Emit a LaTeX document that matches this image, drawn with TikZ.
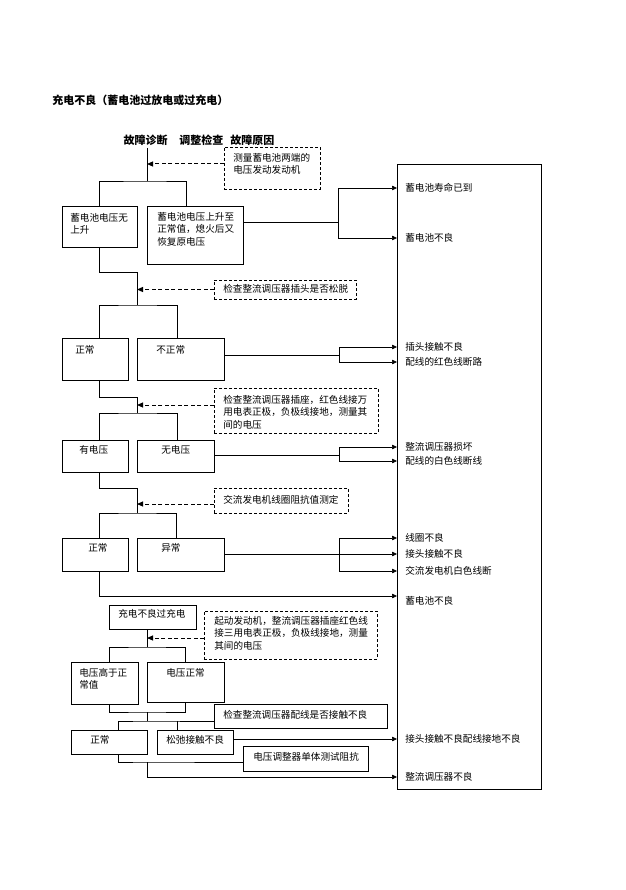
\documentclass[tikz,border=0pt]{standalone}
\usepackage{fontspec}
\setmainfont{Noto Sans CJK SC}
\usetikzlibrary{arrows.meta}
\begin{document}
\begin{tikzpicture}[x=1pt, y=-1pt, line width=0.6pt,
    box/.style={draw, anchor=north west, inner sep=0pt, outer sep=0pt},
    dbox/.style={box, dash pattern=on 3pt off 2pt},
    txt/.style={anchor=north west, inner sep=0pt, align=left, font=\fontsize{9.6pt}{12.5pt}\selectfont},
    ctxt/.style={txt, anchor=west},
    arr/.style={-{Triangle[length=5pt, width=4.5pt]}},
    darr/.style={-{Triangle[length=6pt, width=5pt]}, line width=1pt, dash pattern=on 4pt off 2.5pt}]
    \useasboundingbox (0,0) rectangle (625,890);
    % titles
    \node[anchor=west, inner sep=0pt, font=\fontsize{11pt}{13pt}\selectfont\bfseries] (title) at (52,100) {充电不良（蓄电池过放电或过充电）};
    \node[inner sep=0pt, font=\fontsize{11pt}{13pt}\selectfont\bfseries] (head) at (199,140) {故障诊断\hspace{12pt}调整检查\hspace{7pt}故障原因};
    % causes column
    \node[box, minimum width=144pt, minimum height=625pt] (cause) at (397,164) {};
    \node[ctxt] (c1) at (405,188) {蓄电池寿命已到};
    \node[ctxt] (c2) at (405,238) {蓄电池不良};
    \node[ctxt] (c3) at (405,347) {插头接触不良};
    \node[ctxt] (c4) at (405,362) {配线的红色线断路};
    \node[ctxt] (c5) at (405,447) {整流调压器损坏};
    \node[ctxt] (c6) at (405,461) {配线的白色线断线};
    \node[ctxt] (c7) at (405,538) {线圈不良};
    \node[ctxt] (c8) at (405,554) {接头接触不良};
    \node[ctxt] (c9) at (405,571) {交流发电机白色线断};
    \node[ctxt] (c10) at (405,601) {蓄电池不良};
    \node[ctxt] (c11) at (405,739) {接头接触不良配线接地不良};
    \node[ctxt] (c12) at (405,777) {整流调压器不良};

    % step 1: battery voltage
    \coordinate (s0) at (147,148);
    \coordinate (j1) at (147,181);
    \node[dbox, minimum width=96pt, minimum height=42pt] (d1) at (224,147) {};
    \node[txt] (d1t) at ([shift={(9pt,-6pt)}]d1.north west) {测量蓄电池两端的\\电压发动发动机};
    \node[box, minimum width=75pt, minimum height=41pt] (nv) at (62,206) {};
    \node[txt] (nvt) at ([shift={(8pt,-7pt)}]nv.north west) {蓄电池电压无\\上升};
    \node[box, minimum width=96pt, minimum height=58pt] (rise) at (147,206) {};
    \node[txt] (riset) at ([shift={(10pt,-6pt)}]rise.north west) {蓄电池电压上升至\\正常值，熄火后又\\恢复原电压};
    \draw (s0) -- (j1);
    \draw[darr] ([yshift=4pt]d1.west) -- ([yshift=4pt]d1.west -| s0);
    \draw (nv.north) |- (j1) -| ([xshift=-9pt]rise.north);
    \draw (rise.east |- 0,222) -- (338,222) coordinate (k1);
    \draw[arr] (k1) |- (c1 -| cause.west);
    \draw[arr] (k1) |- (c2 -| cause.west);

    % step 2: plug
    \coordinate (j2) at (137,305);
    \node[dbox, minimum width=142pt, minimum height=19pt] (d2) at (214,280) {};
    \node[txt] (d2t) at ([shift={(9pt,-4pt)}]d2.north west) {检查整流调压器插头是否松脱};
    \node[box, minimum width=66pt, minimum height=42pt] (ok1) at (62,338) {};
    \node[txt] (ok1t) at ([shift={(13pt,-7pt)}]ok1.north west) {正常};
    \node[box, minimum width=87pt, minimum height=42pt] (ab1) at (137,338) {};
    \node[txt] (ab1t) at ([shift={(19pt,-7pt)}]ab1.north west) {不正常};
    \draw (nv.south) |- (137,272) -- (j2);
    \draw[darr] (d2.west) -- (d2.west -| j2);
    \draw ([xshift=4pt]ok1.north) |- (j2) -| ([xshift=-3.5pt]ab1.north);
    \draw (ab1.east |- 0,355) -- (339,355) coordinate (k2);
    \draw[arr] (k2) |- (c3 -| cause.west);
    \draw[arr] (k2) |- (c4 -| cause.west);

    % step 3: socket voltage
    \coordinate (j3) at (137,413);
    \node[dbox, minimum width=164pt, minimum height=45pt] (d3) at (214,388) {};
    \node[txt] (d3t) at ([shift={(9pt,-7pt)}]d3.north west) {检查整流调压器插座，红色线接万\\用电表正极，负极线接地，测量其\\间的电压};
    \node[box, minimum width=66pt, minimum height=32pt] (hv) at (62,440) {};
    \node[txt] (hvt) at ([shift={(17pt,-5pt)}]hv.north west) {有电压};
    \node[box, minimum width=77pt, minimum height=32pt] (nov) at (137,440) {};
    \node[txt] (novt) at ([shift={(24pt,-5pt)}]nov.north west) {无电压};
    \draw ([xshift=4pt]ok1.south) |- (137,397) -- (j3);
    \draw[darr] ([yshift=5.5pt]d3.west) -- ([yshift=5.5pt]d3.west -| j3);
    \draw ([xshift=4pt]hv.north) |- (j3) -| ([xshift=1.5pt]nov.north);
    \draw (nov.east |- 0,455) -- (339,455) coordinate (k3);
    \draw[arr] (k3) |- (c5 -| cause.west);
    \draw[arr] (k3) |- (c6 -| cause.west);

    % step 4: coil resistance
    \coordinate (j4) at (137,513);
    \node[dbox, minimum width=134pt, minimum height=25pt] (d4) at (214,488) {};
    \node[txt] (d4t) at ([shift={(9pt,-7pt)}]d4.north west) {交流发电机线圈阻抗值测定};
    \node[box, minimum width=66pt, minimum height=33pt] (ok2) at (62,538) {};
    \node[txt] (ok2t) at ([shift={(26pt,-5pt)}]ok2.north west) {正常};
    \node[box, minimum width=87pt, minimum height=33pt] (ab2) at (137,538) {};
    \node[txt] (ab2t) at ([shift={(24pt,-5pt)}]ab2.north west) {异常};
    \draw ([xshift=4pt]hv.south) |- (137,488) -- (j4);
    \draw[darr] ([yshift=-3.5pt]d4.west) -- ([yshift=-3.5pt]d4.west -| j4);
    \draw ([xshift=4pt]ok2.north) |- (j4) -| ([xshift=-4.5pt]ab2.north);
    \draw (ab2.east |- 0,554) -- (339,554) coordinate (k4);
    \draw[arr] (k4) |- (c7 -| cause.west);
    \draw[arr] (k4) -- (c8 -| cause.west);
    \draw[arr] (k4) |- (c9 -| cause.west);
    \draw[arr] ([xshift=4pt]ok2.south) |- (cause.west |- 0,596);

    % step 5: overcharge
    \coordinate (j5) at (147,647);
    \coordinate (j6) at (147,712);
    \coordinate (j7) at (147,721);
    \coordinate (j8) at (147,762);
    \node[box, minimum width=87pt, minimum height=24pt] (over) at (109,605) {};
    \node[txt] (overt) at ([shift={(9pt,-4pt)}]over.north west) {充电不良过充电};
    \node[dbox, minimum width=173pt, minimum height=48pt] (d5) at (204,611) {};
    \node[txt] (d5t) at ([shift={(10pt,-5pt)}]d5.north west) {起动发动机，整流调压器插座红色线\\接三用电表正极，负极线接地，测量\\其间的电压};
    \node[box, minimum width=67pt, minimum height=42pt] (high) at (71,662) {};
    \node[txt] (hight) at ([shift={(8pt,-6pt)}]high.north west) {电压高于正\\常值};
    \node[box, minimum width=77pt, minimum height=40pt] (norm) at (147,662) {};
    \node[txt] (normt) at ([shift={(19pt,-6pt)}]norm.north west) {电压正常};
    \node[box, minimum width=173pt, minimum height=24pt] (chk) at (214,704) {};
    \node[txt] (chkt) at ([shift={(9pt,-6pt)}]chk.north west) {检查整流调压器配线是否接触不良};
    \node[box, minimum width=76pt, minimum height=24pt] (ok3) at (71,730) {};
    \node[txt] (ok3t) at ([shift={(19pt,-5pt)}]ok3.north west) {正常};
    \node[box, minimum width=76pt, minimum height=24pt] (loose) at (157,730) {};
    \node[txt] (looset) at ([shift={(9pt,-5pt)}]loose.north west) {松弛接触不良};
    \node[box, minimum width=125pt, minimum height=25pt] (unit) at (243,746) {};
    \node[txt] (unitt) at ([shift={(10pt,-6pt)}]unit.north west) {电压调整器单体测试阻抗};
    \draw ([xshift=-5.5pt]over.south) -- (j5);
    \draw[darr] ([yshift=-3pt]d5.west) -- ([yshift=-3pt]d5.west -| j5);
    \draw ([xshift=4.5pt]high.north) |- (j5) -| (norm.north);
    \draw ([xshift=4.5pt]high.south) |- (j6) -| (norm.south);
    \draw (j6) -- (j7);
    \draw ([xshift=9pt]ok3.north) |- (j7) -- (chk.west |- j7);
    \draw ([xshift=-18pt]loose.north) -- ([xshift=-18pt]loose.north |- j7);
    \draw[arr] (loose.east |- c11) -- (c11 -| cause.west);
    \draw ([xshift=9pt]ok3.south) |- (j8) -- (unit.west |- j8);
    \draw[arr] (j8) |- (c12 -| cause.west);
\end{tikzpicture}
\end{document}
